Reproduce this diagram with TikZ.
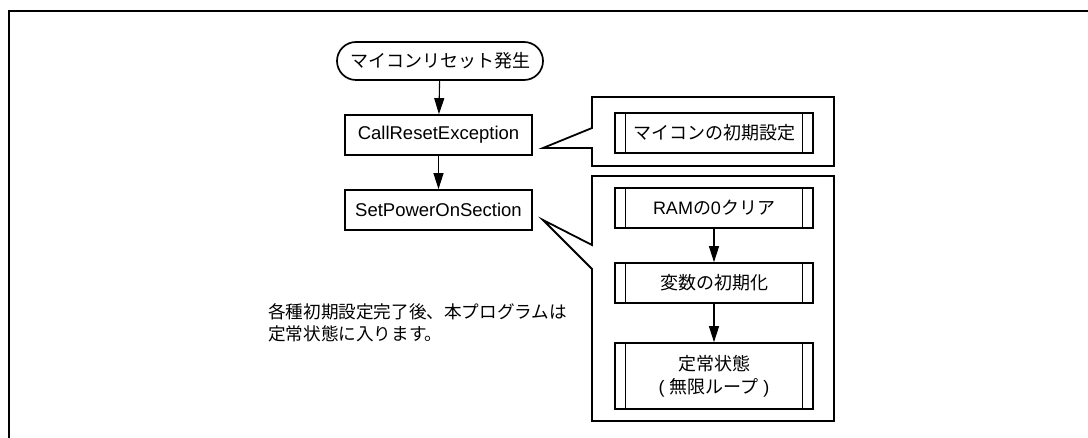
\documentclass[tikz,border=0pt]{standalone}
\usepackage{fontspec}
\setmainfont{Liberation Sans}
\newfontfamily\jp{Noto Sans CJK JP}
\newfontfamily\lat{Liberation Sans}
\usetikzlibrary{arrows.meta}
\tikzset{
  flow/.style={draw, line width=1.7pt, minimum width=187pt, minimum height=40pt, inner sep=0pt, font=\fontsize{18.5}{22}\selectfont},
  term/.style={draw, line width=1.7pt, rounded corners=19pt, minimum width=206pt, minimum height=38pt, inner sep=0pt, font=\jp\fontsize{18}{22}\selectfont},
  subbox/.style={draw, line width=1.7pt, minimum width=198pt, minimum height=40pt, inner sep=0pt, align=center, font=\jp\fontsize{18}{23}\selectfont},
  callout/.style={draw, line width=1.8pt, line join=miter},
  arr/.style={line width=1.1pt, -{Triangle[length=16pt,width=10pt]}},
  frame/.style={line width=2pt},
  note/.style={anchor=north west, inner sep=0pt, align=left, font=\jp\fontsize{17.6}{22}\selectfont}
}
\begin{document}
\begin{tikzpicture}[x=1pt,y=-1pt]
\useasboundingbox (0,0) rectangle (1088,438);
\draw[frame] (9,440) -- (9,11) -- (1090,11);

% left flow
\node[term] (start) at (440,61) {マイコンリセット発生};
\node[flow] (cre) at (438.5,135) {CallResetException};
\node[flow] (spo) at (438.5,210) {SetPowerOnSection};
\draw[arr] (start) -- (cre);
\draw[arr] (cre) -- (spo);

% callout 1
\draw[callout] (592,128) -- (543,148) -- (592,148) -- (592,166) -- (834,166) -- (834,97) -- (592,97) -- cycle;
% callout 2
\draw[callout] (592,245) -- (543,220) -- (592,269) -- (592,421) -- (834,421) -- (834,176) -- (592,176) -- cycle;

% sub-routines
\node[subbox] (init) at (714,133) {マイコンの初期設定};
\node[subbox] (ram) at (714,208) {{\lat RAM}の{\lat 0}クリア};
\node[subbox] (var) at (714,283) {変数の初期化};
\node[subbox, minimum height=66pt] (loop) at (714,376) {定常状態\\{\lat (}\hspace{5pt}無限ループ\hspace{5pt}{\lat )}};
\foreach \n in {init,ram,var,loop}{
  \draw[line width=0.8pt] ([xshift=11.5pt]\n.north west) -- ([xshift=11.5pt]\n.south west);
  \draw[line width=0.8pt] ([xshift=-11.5pt]\n.north east) -- ([xshift=-11.5pt]\n.south east);
}
\draw[arr] (ram) -- (var);
\draw[arr] (var) -- (loop);

% note
\node[note] (txt) at (268,303) {各種初期設定完了後、本プログラムは\\定常状態に入ります。};
\end{tikzpicture}
\end{document}
